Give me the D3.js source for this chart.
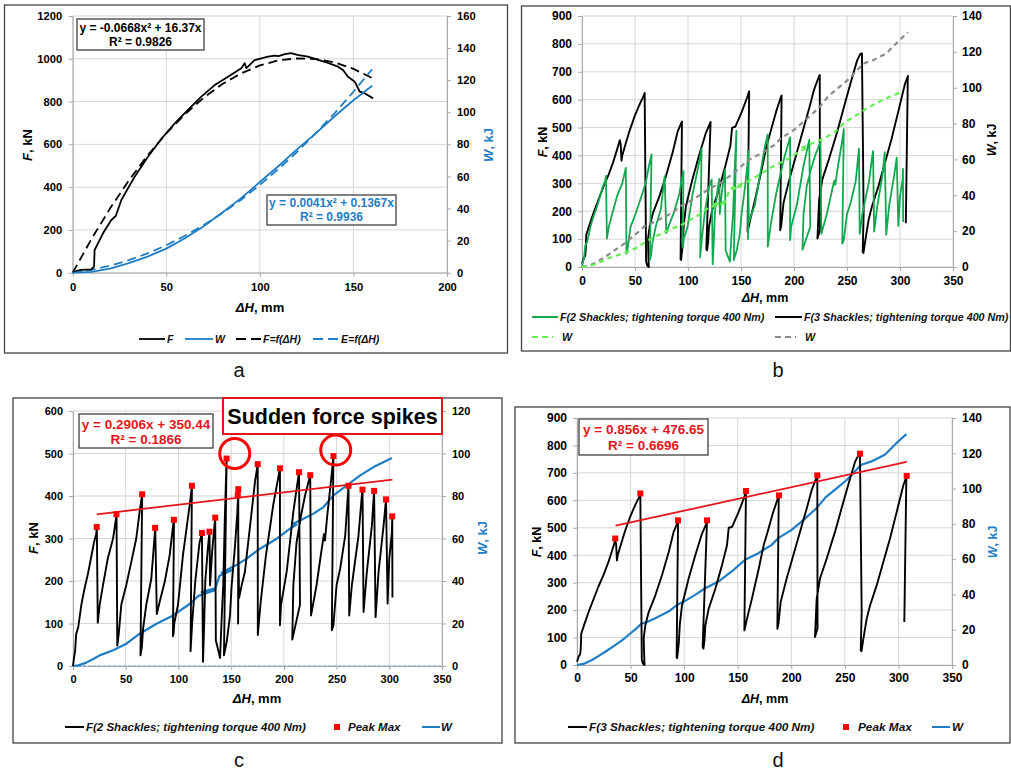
<!DOCTYPE html>
<html><head><meta charset="utf-8">
<script src="https://cdn.jsdelivr.net/npm/d3@7"></script>
<style>body{margin:0;background:#fff}svg{display:block}</style>
</head><body>
<svg id="chart" width="1011" height="773"></svg>
<script>
// ---------- DATA ----------
// Panel a: single compression test
const aF = [[0,0],[2,8],[4.6,13],[9.9,16],[11.4,28],[11.7,106],[13.5,137],[16.2,184],[20.6,246],[23,265],[26,340],[33.1,449],[40.2,542],[47.3,625],[54.5,698],[61.6,761],[68.7,823],[75.9,877],[83,916],[90.1,956],[91.9,979],[92.8,956],[97.2,994],[104.4,1010],[108,1015],[110,1012],[113.3,1022],[116.8,1026],[120,1018],[125.7,1010],[134.6,986],[141.8,963],[144.4,948],[147.1,916],[150.7,893],[153.4,846],[156,839],[160.5,815]];
const aW = [[0,0],[10,0.5],[20,2.5],[30,6],[40,10],[50,15],[60,21.5],[70,29],[80,37.5],[90,46.5],[100,56.5],[110,66.5],[120,77],[130,87],[140,97.5],[150,107.5],[160,116.5]];
const aFfit = [[0,0],[10,157],[20,301],[30,431],[40,548],[50,651],[60,741],[70,818],[80,882],[90,932],[100,969],[110,993],[120,1002],[130,999],[140,983],[150,953],[160,910]];
const aWfit = [[0,0],[10,1.8],[20,4.4],[30,7.8],[40,12],[50,17.1],[60,23],[70,29.7],[80,37.2],[90,45.5],[100,54.7],[110,64.7],[120,75.4],[130,87.1],[140,99.5],[150,112.8],[160,126.8]];
const aXTicks = [0,50,100,150,200];
const aYTicks = [0,200,400,600,800,1000,1200];
const aY2Ticks = [0,20,40,60,80,100,120,140,160];
const aEqF = ["y = -0.0668x² + 16.37x", "R² = 0.9826"];
const aEqW = ["y = 0.0041x² + 0.1367x", "R² = 0.9936"];

// 2 shackles (panel b green, panel c black)
const F2 = [[0,0],[1,20],[2,35],[3,75],[5,92],[8,145],[11,183],[14,215],[17,253],[20,292],[22,310],[22.6,327],
[23.5,102],[25.3,144],[28.5,191],[33,253],[38,300],[41.3,355],
[42,48],[43.3,73],[45.8,144],[50.6,191],[55.3,245],[60,300],[63.2,363],[65.6,404],
[64,25],[65.3,45],[66.5,88],[69.5,144],[74.3,206],[78,326],
[79.5,122],[82.2,151],[87,198],[91.7,261],[95,332],[95.8,344],
[94.8,70],[95.5,78],[96,100],[99.6,144],[104.3,261],[110.7,379],[112.8,424],
[111.5,35],[113,100],[116,200],[120,290],[122.3,313],
[123.3,10],[124.2,80],[125.5,200],[128,280],[129.5,316],
[130,190],[132,270],[134.9,349],
[135.5,60],[139.5,19],[141,111],[142.5,190],[144,347],[145.7,488],
[143.2,25],[146,60],[148.9,119],[150.5,190],[153.7,284],[155.9,362],[156.8,416],
[156.6,100],[157,250],[156.3,402],[157.5,160],[160,190],[163,221],[168,331],[172.6,433],[175.2,475],
[175.3,73],[178,150],[183,260],[190,380],[196.3,465],
[196.3,96],[197.3,144],[202.7,222],[209,363],[214.4,456],
[215.3,144],[208,62],[209,190],[212,290],[216,350],[220,400],[225,449],
[225.8,119],[231,190],[235,260],[238,310],[239,295],[241,350],[245.6,456],[247,494],
[245.5,84],[247,96],[250,190],[253.4,229],[258.2,307],[261.3,424],
[262,119],[264.5,190],[270.8,307],[274,402],[274.6,415],
[275.6,127],[278.7,221],[283.5,331],[285.6,412],
[287,115],[289.8,221],[294.6,331],[296.9,392],
[298.4,147],[300,253],[302.5,315],[302.8,352],[303,161]];
const F2peaks = [[22.5,327],[41.2,357],[65.6,404],[77.9,325],[95.7,344],[112.8,424],[122.3,313],[129.5,316],[134.9,349],[145.7,488],[156.8,416],[156.3,402],[175.2,475],[196.3,465],[214.4,456],[225,449],[247,494],[261.3,424],[274.6,415],[285.6,412],[296.9,392],[302.8,352]];
const W2 = [[0,0],[5,0.3],[12.7,1.6],[20,3.5],[25.3,5],[38,7.4],[50.7,10.5],[63.3,15.2],[79.2,19.9],[95,23.8],[110.9,29.3],[119,33],[134,35.5],[122,34.8],[135,36.5],[139,42.5],[150,45],[141,44],[155,47.5],[164.7,50.5],[177.4,55.2],[193.2,59.9],[205.9,64.6],[212,66.5],[208,66.8],[215.4,68.5],[228.1,71.7],[237.6,74.8],[247.1,80.3],[259.7,85],[272.4,89.7],[285.1,93.6],[302.5,97.9]];
const trend2 = [[22.5,357],[303,438.5]];
const eq2 = ["y = 0.2906x + 350.44", "R² = 0.1866"];
const spikeCircles = [[153.4,500],[249.2,508]];

// 3 shackles (panel b black, panel d black)
const F3 = [[0,12],[1.5,30],[3,40],[3.5,60],[4,115],[7,150],[11,195],[15,235],[20,286],[25,330],[29.5,377],[33,420],[35.7,455],
[36.5,440],[37.3,381],[38,400],[40.4,432],[45,490],[49.7,541],[54,580],[57.5,608],[59.1,624],
[60.5,20],[61.5,5],[63,0],[62.5,60],[62.3,100],[63.8,145],[66.9,193],[73.1,254],[79.3,327],[85.6,412],[90.2,485],[94.3,522],
[93,28],[93.5,25],[95,80],[96,150],[98,217],[104.2,315],[110.4,400],[116.7,479],[121.3,520],
[117.3,66],[118,60],[119,90],[119.8,145],[122.9,205],[129.1,278],[135.3,363],[140,436],[141.6,500],[144.7,503],[150.9,558],[155.6,606],[157.7,630],
[156.2,126],[158.7,169],[163.3,242],[169.6,351],[174.2,436],[177,473],[183.2,558],[187.9,612],[188.3,615],
[187,132],[188,150],[190.1,230],[195.7,315],[201.9,400],[208.1,485],[214.4,570],[219,637],[223.7,685],[224.3,688],
[224.5,133],[222.1,102],[223,180],[223.7,242],[226.8,315],[233,387],[240.8,485],[248.6,594],[254.8,679],[259.5,740],[262.6,764],[264.1,766],
[265.7,193],[264.8,54],[265.5,50],[267.3,96],[270.4,169],[273.5,217],[279.7,290],[285.9,375],[292.1,460],[298.4,558],[304.6,655],[307.4,685],
[305.5,157]];
const F3peaks = [[35.7,461],[59.1,625],[94.3,527],[121.3,527],[157.7,634],[188.5,618],[224.3,691],[264.1,770],[307.7,689]];
const W3 = [[0,0],[7,0.8],[14,2.8],[20,5],[26.4,7.5],[35,11],[42,14],[48,17],[55,20.5],[60,23.3],[66,24.5],[73,26.5],[85.4,30.3],[93.2,34],[102.5,36.9],[111,40],[119.6,43.5],[132,47.3],[144.4,53],[156.8,59.6],[169.3,63.4],[181.7,68.1],[187.9,71.9],[200.3,76.6],[209.6,81.3],[223.6,88.9],[232,95],[242,100],[252,105],[262.4,111.6],[265.5,113.5],[274.8,115.4],[287.3,119.2],[299.7,126.7],[307.5,130.9]];
const trend3 = [[36,507.5],[307.7,740]];
const eq3 = ["y = 0.856x + 476.65", "R² = 0.6696"];

const xTicks350 = [0,50,100,150,200,250,300,350];
const yTicks900 = [0,100,200,300,400,500,600,700,800,900];
const y2Ticks140 = [0,20,40,60,80,100,120,140];
const yTicks600 = [0,100,200,300,400,500,600];
const y2Ticks120 = [0,20,40,60,80,100,120];

const legend2 = "F(2 Shackles; tightening torque 400 Nm)";
const legend3 = "F(3 Shackles; tightening torque 400 Nm)";

// ---------- DRAWING ----------
const FONT = "Arial, 'Liberation Sans', sans-serif";
const BLUE = "#1f7dc6", GREEN = "#12a84f", LGREEN = "#66ee55", GRAY = "#8c8c8c", RED = "#ff0000";
const svg = d3.select("#chart").attr("font-family", FONT);

function frame(x, y, w, h) {
  svg.append("rect").attr("x", x).attr("y", y).attr("width", w).attr("height", h)
    .attr("fill", "none").attr("stroke", "#444").attr("stroke-width", 1.3);
}

function panel(o) {
  const x = d3.scaleLinear().domain(o.xd).range([o.L, o.R]);
  const y = d3.scaleLinear().domain(o.yd).range([o.B, o.T]);
  const y2 = d3.scaleLinear().domain(o.y2d).range([o.B, o.T]);
  const g = svg.append("g");
  g.selectAll(null).data(o.yt).enter().append("line")
    .attr("x1", o.L).attr("x2", o.R).attr("y1", d => y(d)).attr("y2", d => y(d))
    .attr("stroke", "#d6d6d6").attr("stroke-width", 1);
  g.selectAll(null).data(o.xt).enter().append("line")
    .attr("y1", o.B).attr("y2", o.T).attr("x1", d => x(d)).attr("x2", d => x(d))
    .attr("stroke", "#d6d6d6").attr("stroke-width", 1);
  const style = (a) => {
    a.attr("font-family", FONT).attr("font-size", o.fs).attr("font-weight", "bold");
    a.select(".domain").attr("stroke", "#a8a8a8");
    a.selectAll(".tick line").attr("stroke", "#a8a8a8");
    a.selectAll(".tick text").attr("fill", "#000");
  };
  g.append("g").attr("transform", `translate(${o.L},0)`)
    .call(d3.axisLeft(y).tickValues(o.yt).tickSize(4).tickSizeOuter(0).tickPadding(o.pl).tickFormat(d3.format("d"))).call(style);
  g.append("g").attr("transform", `translate(0,${o.B})`)
    .call(d3.axisBottom(x).tickValues(o.xt).tickSize(4).tickSizeOuter(0).tickPadding(o.pb).tickFormat(d3.format("d"))).call(style);
  g.append("g").attr("transform", `translate(${o.R},0)`)
    .call(d3.axisRight(y2).tickValues(o.y2t).tickSize(4).tickSizeOuter(0).tickPadding(o.pr).tickFormat(d3.format("d"))).call(style);
  return {x, y, y2, g};
}

function rich(parent, x, y, parts, size, anchor, fill, rot) {
  const t = parent.append("text").attr("font-size", size).attr("font-weight", "bold")
    .attr("fill", fill || "#000").attr("text-anchor", anchor || "middle");
  if (rot) t.attr("transform", `translate(${x},${y}) rotate(-90)`).attr("dy", "0.35em");
  else t.attr("x", x).attr("y", y);
  parts.forEach(p => t.append("tspan").attr("font-style", p[1] ? "italic" : "normal").text(p[0]));
  return t;
}

function titles(p, o) {
  rich(svg, o.ltx, o.lty, [["F", 1], [", kN", 0]], o.tfs, "middle", "#000", true);
  rich(svg, o.rtx, o.rty, [["W", 1], [", kJ", 0]], o.tfs, "middle", o.rtc, true);
  rich(svg, o.xtx, o.xty, [["ΔH", 1], [", mm", 0]], o.tfs, "middle", "#000", false);
}

function eqBox(x0, y0, w, h, lines, ys, size, color) {
  svg.append("rect").attr("x", x0).attr("y", y0).attr("width", w).attr("height", h)
    .attr("fill", "#fff").attr("stroke", "#404040").attr("stroke-width", 1.3);
  lines.forEach((l, i) => svg.append("text").attr("x", x0 + w / 2).attr("y", ys[i])
    .attr("text-anchor", "middle").attr("font-size", size).attr("font-weight", "bold")
    .attr("fill", color).text(l));
}

function legLine(x1, x2, y, color, dash, w) {
  svg.append("line").attr("x1", x1).attr("x2", x2).attr("y1", y).attr("y2", y)
    .attr("stroke", color).attr("stroke-width", w || 2).attr("stroke-dasharray", dash || null);
}
function legText(x, y, txt, size) {
  svg.append("text").attr("x", x).attr("y", y).attr("dy", "0.35em").attr("font-size", size)
    .attr("font-weight", "bold").attr("font-style", "italic").attr("fill", "#111").text(txt);
}
function path(g, data, sx, sy, color, w, dash) {
  g.append("path").datum(data).attr("fill", "none").attr("stroke", color)
    .attr("stroke-width", w).attr("stroke-linejoin", "round").attr("stroke-dasharray", dash || null)
    .attr("d", d3.line().x(d => sx(d[0])).y(d => sy(d[1])));
}

// ----- Panel a -----
frame(4.5, 5, 503, 348);
const pa = panel({L: 72.7, R: 447, T: 16, B: 272.7, xd: [0, 200], yd: [0, 1200], y2d: [0, 160],
  xt: aXTicks, yt: aYTicks, y2t: aY2Ticks, fs: 11.2, pl: 6.5, pb: 6, pr: 6});
path(pa.g, aFfit, pa.x, pa.y, "#000", 1.8, "9,5");
path(pa.g, aWfit, pa.x, pa.y2, BLUE, 1.8, "9,5");
path(pa.g, aF, pa.x, pa.y, "#000", 1.8);
path(pa.g, aW, pa.x, pa.y2, BLUE, 1.8);
titles(pa, {ltx: 27, lty: 145, rtx: 488, rty: 145, rtc: BLUE, xtx: 260, xty: 312, tfs: 13});
eqBox(77, 19, 127, 31, aEqF, [32, 46], 12, "#000");
eqBox(267, 195, 129, 30, aEqW, [207, 221], 12, BLUE);
legLine(139, 165, 339, "#000", null, 1.8); legText(167, 339, "F", 10.5);
legLine(185, 213, 339, BLUE, null, 1.8); legText(215, 339, "W", 10.5);
legLine(236, 262, 339, "#000", "10,5", 1.8); legText(263, 339, "F=f(ΔH)", 10.5);
legLine(313, 340, 339, BLUE, "10,5", 1.8); legText(341, 339, "E=f(ΔH)", 10.5);

// ----- Panel b -----
frame(521.5, 6, 489, 345);
const pb = panel({L: 582, R: 953, T: 16, B: 267, xd: [0, 350], yd: [0, 900], y2d: [0, 140],
  xt: xTicks350, yt: yTicks900, y2t: y2Ticks140, fs: 12, pl: 6, pb: 5.5, pr: 5});
path(pb.g, F3, pb.x, pb.y, "#000", 1.9);
path(pb.g, F2, pb.x, pb.y, GREEN, 1.8);
path(pb.g, W3, pb.x, pb.y2, GRAY, 2.2, "5,4");
path(pb.g, W2, pb.x, pb.y2, LGREEN, 2.2, "5,4");
titles(pb, {ltx: 543, lty: 142, rtx: 992, rty: 140, rtc: "#000", xtx: 765, xty: 302, tfs: 12.5});
legLine(532, 558, 317, GREEN, null, 2); legText(560, 317, legend2, 10.7);
legLine(775, 802, 317, "#000", null, 2); legText(804, 317, legend3, 10.7);
legLine(532, 553, 337, LGREEN, "6,4", 2); legText(562, 337, "W", 10.7);
legLine(775, 796, 337, GRAY, "6,4", 2); legText(805, 337, "W", 10.7);

// ----- Panel c -----
frame(13, 398, 489, 345);
const pc = panel({L: 73, R: 442, T: 411, B: 666, xd: [0, 350], yd: [0, 600], y2d: [0, 120],
  xt: xTicks350, yt: yTicks600, y2t: y2Ticks120, fs: 11, pl: 6, pb: 5, pr: 6});
pc.g.append("line").attr("x1", pc.x(0)).attr("x2", pc.x(350)).attr("y1", pc.y(0)).attr("y2", pc.y(0))
  .attr("stroke", "#6aa8d8").attr("stroke-width", 1).attr("stroke-dasharray", "3,2");
path(pc.g, W2, pc.x, pc.y2, BLUE, 2.2);
path(pc.g, F2, pc.x, pc.y, "#000", 1.9);
path(pc.g, trend2, pc.x, pc.y, "#e8141c", 1.8);
pc.g.selectAll(null).data(F2peaks).enter().append("rect")
  .attr("x", d => pc.x(d[0]) - 3).attr("y", d => pc.y(d[1]) - 3).attr("width", 6).attr("height", 6).attr("fill", RED);
pc.g.selectAll(null).data(spikeCircles).enter().append("circle")
  .attr("cx", d => pc.x(d[0])).attr("cy", d => pc.y(d[1])).attr("r", 15)
  .attr("fill", "none").attr("stroke", RED).attr("stroke-width", 3);
titles(pc, {ltx: 33, lty: 538, rtx: 482, rty: 538, rtc: BLUE, xtx: 257, xty: 703, tfs: 13});
eqBox(79, 414, 134, 34, eq2, [428.5, 444], 13.5, "#e8141c");
svg.append("rect").attr("x", 223).attr("y", 398).attr("width", 219).attr("height", 36)
  .attr("fill", "#fff").attr("stroke", "#e8141c").attr("stroke-width", 2);
svg.append("text").attr("x", 332.5).attr("y", 423.5).attr("text-anchor", "middle")
  .attr("font-size", 21.5).attr("font-weight", "bold").attr("fill", "#000").text("Sudden force spikes");
legLine(65, 84, 727, "#000", null, 2); legText(86, 727, legend2, 11.5);
svg.append("rect").attr("x", 334).attr("y", 724).attr("width", 6).attr("height", 6).attr("fill", RED);
legText(348, 727, "Peak Max", 11.5);
legLine(422, 440, 727, BLUE, null, 2); legText(441, 727, "W", 11.5);

// ----- Panel d -----
frame(515, 407, 495, 336);
const pd = panel({L: 577, R: 952, T: 418, B: 665, xd: [0, 350], yd: [0, 900], y2d: [0, 140],
  xt: xTicks350, yt: yTicks900, y2t: y2Ticks140, fs: 12, pl: 6, pb: 4.5, pr: 6});
path(pd.g, W3, pd.x, pd.y2, BLUE, 2.2);
path(pd.g, F3, pd.x, pd.y, "#000", 1.9);
path(pd.g, trend3, pd.x, pd.y, "#e8141c", 1.8);
pd.g.selectAll(null).data(F3peaks).enter().append("rect")
  .attr("x", d => pd.x(d[0]) - 3).attr("y", d => pd.y(d[1]) - 3).attr("width", 6).attr("height", 6).attr("fill", RED);
titles(pd, {ltx: 537, lty: 542, rtx: 993, rty: 542, rtc: BLUE, xtx: 765, xty: 703, tfs: 12.5});
eqBox(579, 419, 129, 36, eq3, [433.5, 450], 13.5, "#e8141c");
legLine(568, 587, 727, "#000", null, 2); legText(589, 727, legend3, 11.8);
svg.append("rect").attr("x", 843).attr("y", 724).attr("width", 6).attr("height", 6).attr("fill", RED);
legText(858, 727, "Peak Max", 11.8);
legLine(932, 950, 727, BLUE, null, 2); legText(952, 727, "W", 11.8);

// ----- sub-figure labels -----
[["a", 239, 377], ["b", 778, 377], ["c", 239, 767], ["d", 778, 767]].forEach(l =>
  svg.append("text").attr("x", l[1]).attr("y", l[2]).attr("text-anchor", "middle")
    .attr("font-size", 20).attr("fill", "#111").text(l[0]));
</script>
</body></html>
